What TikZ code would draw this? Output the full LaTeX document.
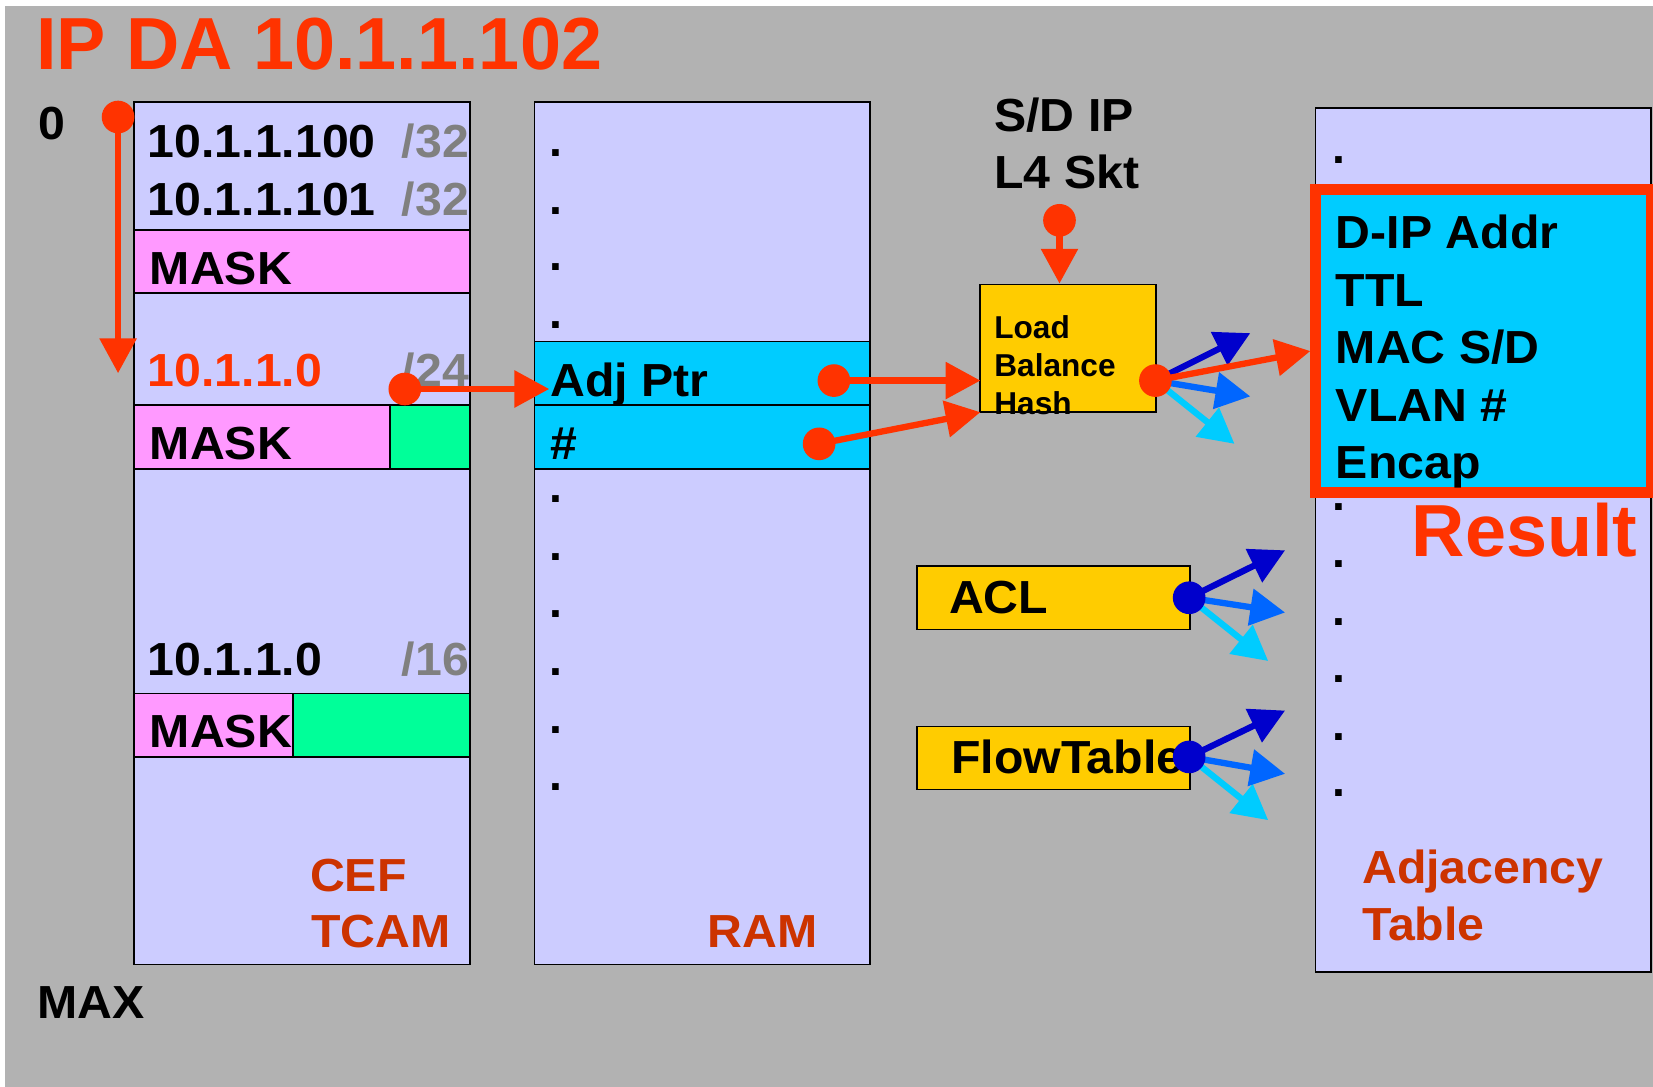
\documentclass[tikz,border=0pt]{standalone}
\usepackage{fontspec}
\setmainfont{Liberation Sans}
\newfontfamily\widefont{Liberation Sans}[FakeStretch=1.04]
\usetikzlibrary{arrows.meta}
\definecolor{bggrey}{HTML}{B2B2B2}
\definecolor{lav}{HTML}{CCCCFF}
\definecolor{pinkm}{HTML}{FF99FF}
\definecolor{greenm}{HTML}{00FF99}
\definecolor{cyanm}{HTML}{00CCFF}
\definecolor{goldm}{HTML}{FFCC00}
\definecolor{redm}{HTML}{FF3300}
\definecolor{rustm}{HTML}{CC3300}
\definecolor{greyt}{HTML}{808080}
\definecolor{blued}{HTML}{0000CC}
\definecolor{bluem}{HTML}{0066FF}
\definecolor{bluel}{HTML}{00CCFF}
\begin{document}
\begin{tikzpicture}[x=1pt,y=-1pt,
  box/.style={draw=black, line width=1.5pt, inner sep=0pt, outer sep=0pt, anchor=north west},
  txt/.style={anchor=base west, inner sep=0pt, font=\widefont\fontsize{44}{44}\selectfont\bfseries},
  txte/.style={txt, anchor=base east, text=greyt},
  small/.style={anchor=base west, inner sep=0pt, font=\fontsize{30}{30}\selectfont\bfseries},
  huge/.style={anchor=base west, inner sep=0pt, font=\fontsize{70}{70}\selectfont\bfseries, text=redm},
  pt/.style={anchor=base, inner sep=0pt, font=\fontsize{44}{44}\selectfont\bfseries},
  rdot/.style={circle, fill=redm, inner sep=0pt, minimum size=31pt},
  bdot/.style={circle, fill=blued, inner sep=0pt, minimum size=31pt},
  arr/.style={line width=6pt, -{Triangle[length=33pt,width=34pt]}},
  rarr/.style={arr, draw=redm},
]
\useasboundingbox (0,0) rectangle (1568,1031);
\fill[white] (0,0) rectangle (1568,1031);
\fill[bggrey] (5,6) rectangle (1568,1031);

% ---------- boxes ----------
\node[box, fill=lav, minimum width=319pt, minimum height=818pt] (tcam) at (127,97) {};
\node[box, fill=pinkm, minimum width=319pt, minimum height=60pt] (mask1) at (127,218) {};
\node[box, fill=pinkm, minimum width=243pt, minimum height=61pt] (mask2) at (127,384) {};
\node[box, fill=greenm, minimum width=76pt, minimum height=61pt] (green2) at (370,384) {};
\node[box, fill=pinkm, minimum width=151pt, minimum height=60pt] (mask3) at (127,658) {};
\node[box, fill=greenm, minimum width=168pt, minimum height=60pt] (green3) at (278,658) {};

\node[box, fill=lav, minimum width=318pt, minimum height=818pt] (ram) at (507,97) {};
\node[box, fill=cyanm, minimum width=318pt, minimum height=60pt] (adjrow) at (507,324) {};
\node[box, fill=cyanm, minimum width=318pt, minimum height=61pt] (hashrow) at (507,384) {};

\node[box, fill=goldm, minimum width=167pt, minimum height=121pt] (lb) at (929.5,270) {};
\node[box, fill=goldm, minimum width=259pt, minimum height=60pt] (acl) at (870,537) {};
\node[box, fill=goldm, minimum width=259pt, minimum height=60pt] (ft) at (870,689) {};

\node[box, fill=lav, minimum width=318pt, minimum height=819.5pt] (adjtab) at (1248,102.5) {};
\node[box, draw=redm, line width=10pt, fill=cyanm, minimum width=318pt, minimum height=287.5pt] (result) at (1248,179.5) {};

% ---------- texts ----------
\node[huge] (title) at (34,66) {IP DA 10.1.1.102};
\node[txt] (zero) at (36,132) {0};
\node[txt] (maxl) at (35,966) {MAX};

\node[txt] (e1) at (140,149) {10.1.1.100};
\node[txte] (p1) at (445,149) {/32};
\node[txt] (e2) at (140,204) {10.1.1.101};
\node[txte] (p2) at (445,204) {/32};
\node[txt] (m1) at (142,270) {MASK};
\node[txt, text=redm] (e3) at (140,367) {10.1.1.0};
\node[txte] (p3) at (445,367) {/24};
\node[txt] (m2) at (142,436) {MASK};
\node[txt] (e4) at (140,641) {10.1.1.0};
\node[txte] (p4) at (445,641) {/16};
\node[txt] (m3) at (142,709) {MASK};
\node[txt, text=rustm] (cef) at (294,846) {CEF};
\node[txt, text=rustm] (tcaml) at (295,899) {TCAM};

\foreach \y [count=\i] in {145,200,254,309,474,529,583,638,693,747}
  \node[pt] (rd\i) at (527,\y+3) {.};
\node[txt] (adjptr) at (522,376) {Adj Ptr};
\node[txt] (hash) at (522,436) {\#};
\node[txt, text=rustm] (raml) at (671,899) {RAM};

\node[txt] (sdip) at (943,125) {S/D IP};
\node[txt] (l4) at (943,179) {L4 Skt};
\node[small] (lb1) at (943,321) {Load};
\node[small] (lb2) at (943,357) {Balance};
\node[small] (lb3) at (943,393) {Hash};
\node[txt] (acltxt) at (900,582) {ACL};
\node[txt] (fttxt) at (902,734) {FlowTable};

\foreach \y [count=\i] in {152,481,535,590,644,699,753}
  \node[pt] (ad\i) at (1270,\y+3) {.};
\node[txt] (r1) at (1267,236) {D-IP Addr};
\node[txt] (r2) at (1267,291) {TTL};
\node[txt] (r3) at (1267,345) {MAC S/D};
\node[txt] (r4) at (1267,400) {VLAN \#};
\node[txt] (r5) at (1267,454) {Encap};
\node[huge] (resl) at (1339,528) {Result};
\node[txt, text=rustm] (adjl1) at (1292,838) {Adjacency};
\node[txt, text=rustm] (adjl2) at (1292,892) {Table};

% ---------- connector endpoints ----------
\coordinate (dZero) at (112,111);
\coordinate (tZero) at (112,354);
\coordinate (dTcam) at (384,369);
\coordinate (tAdj) at (521,369);
\coordinate (dAdj) at (791,361);
\coordinate (tLb1) at (930,361);
\coordinate (dHash) at (777,421);
\coordinate (tLb2) at (930,391);
\coordinate (dSd) at (1005,209);
\coordinate (tLbTop) at (1005,269);
\coordinate (dLb) at (1096,361);
\coordinate (tRes) at (1243,333);
\coordinate (tLbA) at (1186,316);
\coordinate (tLbB) at (1186,376);
\coordinate (tLbC) at (1171,421);
\coordinate (dAcl) at (1128,567);
\coordinate (tAclA) at (1219,522);
\coordinate (tAclB) at (1219,581);
\coordinate (tAclC) at (1203,627);
\coordinate (dFt) at (1128,718);
\coordinate (tFtA) at (1219,674);
\coordinate (tFtB) at (1219,734);
\coordinate (tFtC) at (1203,778);

% ---------- arrows ----------
\draw[rarr] (dZero) -- (tZero);
\draw[rarr] (dTcam) -- (tAdj);
\draw[rarr] (dAdj) -- (tLb1);
\draw[rarr] (dHash) -- (tLb2);
\draw[rarr] (dSd) -- (tLbTop);

\draw[arr, draw=bluel] (dLb) -- (tLbC);
\draw[arr, draw=bluem] (dLb) -- (tLbB);
\draw[arr, draw=blued] (dLb) -- (tLbA);
\draw[rarr] (dLb) -- (tRes);

\draw[arr, draw=bluel] (dAcl) -- (tAclC);
\draw[arr, draw=bluem] (dAcl) -- (tAclB);
\draw[arr, draw=blued] (dAcl) -- (tAclA);
\draw[arr, draw=bluel] (dFt) -- (tFtC);
\draw[arr, draw=bluem] (dFt) -- (tFtB);
\draw[arr, draw=blued] (dFt) -- (tFtA);

% ---------- dots ----------
\node[rdot] (nZero) at (dZero) {};
\node[rdot] (nTcam) at (dTcam) {};
\node[rdot] (nAdj) at (dAdj) {};
\node[rdot] (nHash) at (dHash) {};
\node[rdot] (nSd) at (dSd) {};
\node[rdot] (nLb) at (dLb) {};
\node[bdot] (nAcl) at (dAcl) {};
\node[bdot] (nFt) at (dFt) {};
\end{tikzpicture}
\end{document}
